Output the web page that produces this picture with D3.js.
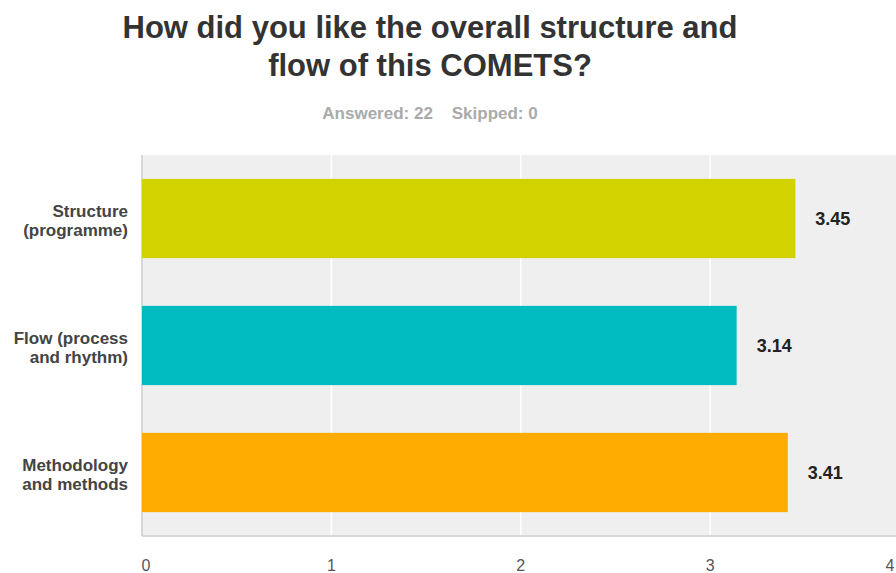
<!DOCTYPE html>
<html>
<head>
<meta charset="utf-8">
<script src="https://cdn.jsdelivr.net/npm/d3@7"></script>
<style>
  html, body { margin: 0; padding: 0; background: #fff; }
  svg { display: block; font-family: "Liberation Sans", Arial, Helvetica, sans-serif; }
</style>
</head>
<body>
<svg id="chart" width="896" height="573"></svg>
<script>
const titleLines = ["How did you like the overall structure and", "flow of this COMETS?"];
const subtitle = "Answered: 22    Skipped: 0";
const categories = ["Structure (programme)", "Flow (process and rhythm)", "Methodology and methods"];
const categoryLines = [["Structure", "(programme)"], ["Flow (process", "and rhythm)"], ["Methodology", "and methods"]];
const values = [3.45, 3.14, 3.41];
const colors = ["#d2d200", "#00bbbf", "#ffab00"];
const xTicks = [0, 1, 2, 3, 4];

const svg = d3.select("#chart");
const W = 896, H = 573;
const plot = { left: 142, top: 155, right: 899.5, bottom: 536 };

const x = d3.scaleLinear().domain([0, 4]).range([plot.left, plot.right]);
const y = d3.scaleBand().domain(categories).range([plot.top, plot.bottom])
  .paddingInner(0.376).paddingOuter(0.188);

// title
svg.append("g").selectAll("text").data(titleLines).join("text")
  .attr("x", 430).attr("y", (d, i) => 38 + i * 38)
  .attr("text-anchor", "middle")
  .attr("font-size", 31).attr("font-weight", "bold").attr("fill", "#333")
  .text(d => d);

svg.append("text")
  .attr("x", 430).attr("y", 119)
  .attr("text-anchor", "middle")
  .attr("font-size", 17).attr("font-weight", "bold").attr("fill", "#aaa")
  .attr("xml:space", "preserve").style("white-space", "pre")
  .text(subtitle);

// plot background
svg.append("rect")
  .attr("x", plot.left).attr("y", plot.top)
  .attr("width", W - plot.left).attr("height", plot.bottom - plot.top)
  .attr("fill", "#efefef");

// gridlines
svg.append("g").selectAll("line").data(xTicks.filter(t => t > 0 && t < 4)).join("line")
  .attr("x1", d => x(d)).attr("x2", d => x(d))
  .attr("y1", plot.top).attr("y2", plot.bottom)
  .attr("stroke", "#fff").attr("stroke-width", 1.5);

// axis lines
svg.append("line")
  .attr("x1", plot.left).attr("x2", plot.left)
  .attr("y1", plot.top).attr("y2", plot.bottom)
  .attr("stroke", "#d8d8d8").attr("stroke-width", 2);
svg.append("line")
  .attr("x1", plot.left).attr("x2", W)
  .attr("y1", plot.bottom).attr("y2", plot.bottom)
  .attr("stroke", "#d8d8d8").attr("stroke-width", 2);

// bars
svg.append("g").selectAll("rect").data(categories).join("rect")
  .attr("x", x(0)).attr("y", d => y(d))
  .attr("width", (d, i) => x(values[i]) - x(0))
  .attr("height", y.bandwidth())
  .attr("fill", (d, i) => colors[i]);

// value labels
svg.append("g").selectAll("text").data(categories).join("text")
  .attr("x", (d, i) => x(values[i]) + 20)
  .attr("y", d => y(d) + y.bandwidth() / 2 + 6.5)
  .attr("font-size", 18).attr("font-weight", "bold").attr("fill", "#222")
  .text((d, i) => values[i].toFixed(2));

// category labels
const cl = svg.append("g").selectAll("text").data(categories).join("text")
  .attr("text-anchor", "end")
  .attr("font-size", 17).attr("font-weight", "bold").attr("fill", "#444");
cl.each(function(d, i) {
  const t = d3.select(this);
  const cy = y(d) + y.bandwidth() / 2;
  categoryLines[i].forEach((line, j) => {
    t.append("tspan").attr("x", 128).attr("y", cy - 2 + j * 19).text(line);
  });
});

// x tick labels
svg.append("g").selectAll("text").data(xTicks).join("text")
  .attr("x", d => d === 0 ? x(d) + 4 : Math.min(x(d), 890))
  .attr("y", 571)
  .attr("text-anchor", "middle")
  .attr("font-size", 16).attr("fill", "#555")
  .text(d => d);
</script>
</body>
</html>
